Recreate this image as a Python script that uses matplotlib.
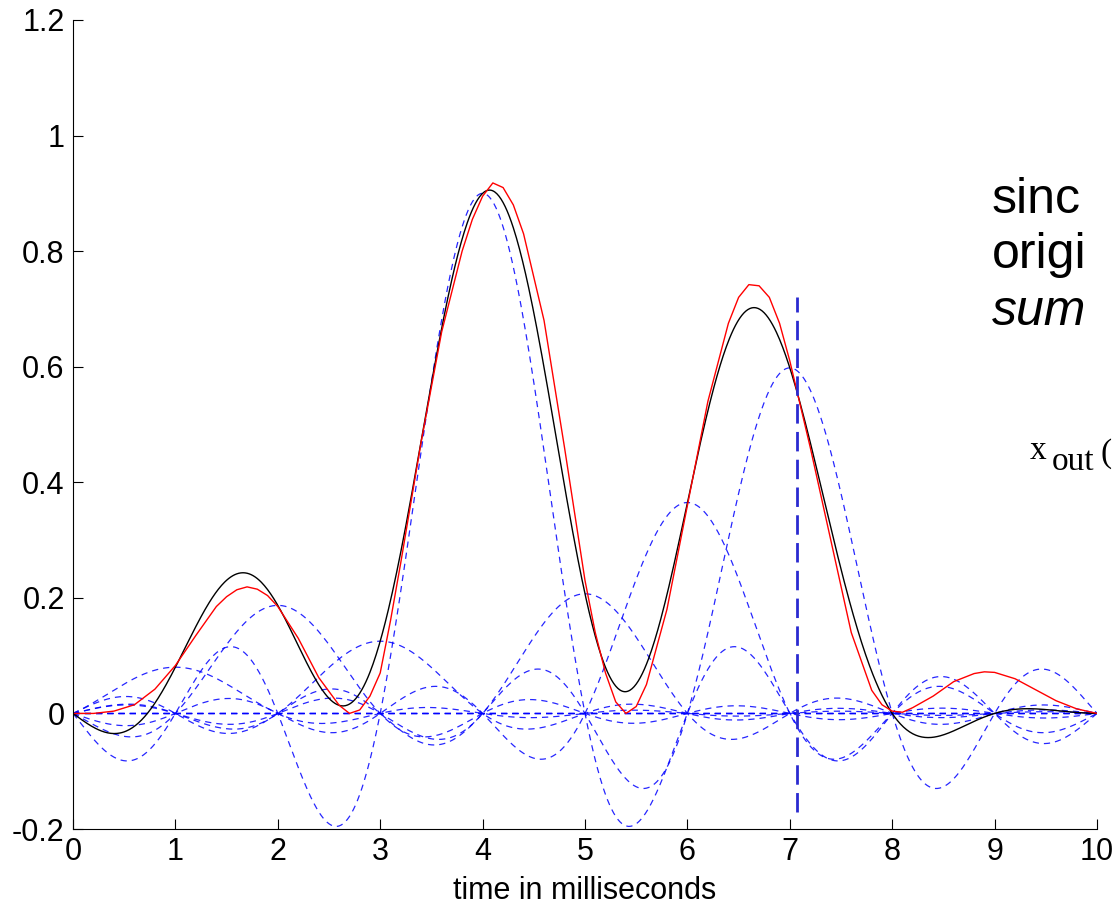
import numpy as np
import matplotlib
matplotlib.use("Agg")
import matplotlib.pyplot as plt

# sample values at t = 0..10 ms (height of each sinc)
sample_t = [0, 1, 2, 3, 4, 5, 6, 7, 8, 9, 10]
sample_v = [0.0, 0.08, 0.187, 0.125, 0.90, 0.207, 0.365, 0.598, 0.0, 0.0, 0.0]

# original signal
red_t = [0.0, 0.2, 0.3, 0.4, 0.6, 0.8, 1.0, 1.2, 1.4, 1.5, 1.6, 1.7, 1.8, 1.9, 2.0,
         2.2, 2.4, 2.6, 2.7, 2.8, 2.9, 3.0, 3.1, 3.2, 3.4, 3.6, 3.8, 3.9, 4.0, 4.1,
         4.2, 4.3, 4.4, 4.6, 4.8, 5.0, 5.1, 5.2, 5.3, 5.4, 5.5, 5.6, 5.8, 6.0, 6.2,
         6.4, 6.5, 6.6, 6.7, 6.8, 6.9, 7.0, 7.2, 7.4, 7.6, 7.8, 7.9, 8.0, 8.1, 8.2,
         8.4, 8.6, 8.8, 8.9, 9.0, 9.2, 9.4, 9.6, 9.8, 10.0]
red_v = [0.0, 0.0, 0.002, 0.004, 0.015, 0.042, 0.083, 0.135, 0.185, 0.202, 0.214,
         0.219, 0.215, 0.204, 0.185, 0.13, 0.062, 0.014, 0.0, 0.006, 0.03, 0.07,
         0.16, 0.26, 0.47, 0.66, 0.80, 0.855, 0.895, 0.918, 0.91, 0.88, 0.83, 0.68,
         0.46, 0.23, 0.14, 0.07, 0.02, 0.0, 0.012, 0.05, 0.18, 0.36, 0.54, 0.675,
         0.72, 0.742, 0.74, 0.72, 0.675, 0.61, 0.46, 0.30, 0.14, 0.04, 0.015, 0.004,
         0.002, 0.01, 0.03, 0.055, 0.069, 0.072, 0.071, 0.06, 0.041, 0.022, 0.008,
         0.0]

cursor_t = 7.07
cursor_y = [-0.17, 0.72]

plt.rcParams["font.family"] = ["Liberation Sans", "DejaVu Sans"]

fig = plt.figure(figsize=(11.16, 9.08), dpi=100)
ax = fig.add_axes([0.0654, 0.087, 0.9176, 0.891])

t = np.linspace(0, 10, 1001)
total = np.zeros_like(t)
for n, v in zip(sample_t, sample_v):
    s = v * np.sinc(t - n)
    total += s
    ax.plot(t, s, color="#0000ff", lw=0.9, ls=(0, (5, 4)), alpha=0.85)

ax.plot(t, total, color="black", lw=1.0)
ax.plot(red_t, red_v, color="red", lw=1.0)
ax.plot([cursor_t, cursor_t], cursor_y, color="#2a2ad0", lw=2.0, ls=(0, (7, 3)))

ax.set_xlim(0, 10)
ax.set_ylim(-0.2, 1.2)
ax.set_xticks(range(0, 11))
ax.set_yticks([-0.2, 0, 0.2, 0.4, 0.6, 0.8, 1, 1.2])
ax.set_yticklabels(["-0.2", "0", "0.2", "0.4", "0.6", "0.8", "1", "1.2"])
ax.spines["top"].set_visible(False)
ax.spines["right"].set_visible(False)
ax.tick_params(direction="in", length=7, width=0.8, labelsize=22, pad=6)
ax.set_xlabel("time in milliseconds", fontsize=22, labelpad=6)

# labels cut off by the right edge of the figure
fig.text(992 / 1116, 1 - 213 / 908, "sinc", fontsize=36)
fig.text(992 / 1116, 1 - 268 / 908, "origi", fontsize=36)
fig.text(992 / 1116, 1 - 325 / 908, "sum", fontsize=36, style="italic")
fig.text(1030 / 1116, 1 - 459 / 908, "x", fontsize=24, family="Liberation Serif")
fig.text(1052 / 1116, 1 - 470 / 908, "out", fontsize=24, family="Liberation Serif")
fig.text(1100 / 1116, 1 - 462 / 908, "(", fontsize=24, family="Liberation Serif")

plt.savefig("out.png", dpi=100)
